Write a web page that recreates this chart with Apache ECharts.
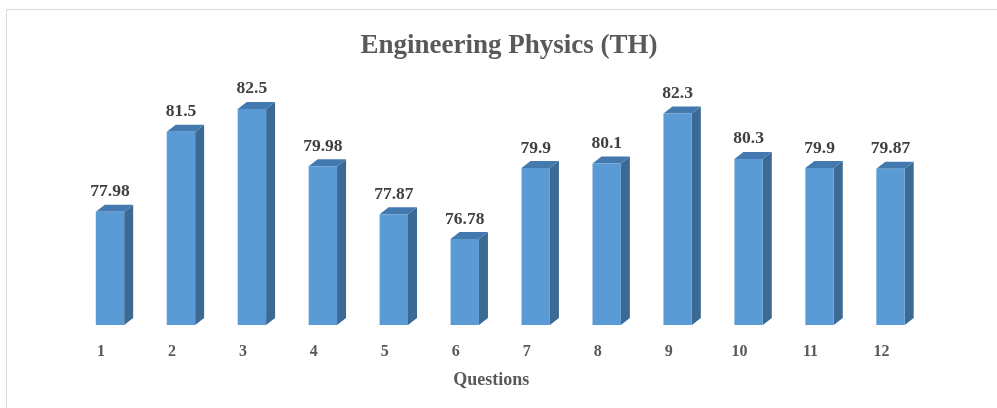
<!DOCTYPE html>
<html><head><meta charset="utf-8">
<script src="https://cdn.jsdelivr.net/npm/echarts@6/dist/echarts.min.js"></script>
<style>html,body{margin:0;padding:0;background:#fff}#c{width:997px;height:408px}</style>
</head><body><div id="c"></div>
<script>
const categories = ['1','2','3','4','5','6','7','8','9','10','11','12'];
const scores = [77.98, 81.5, 82.5, 79.98, 77.87, 76.78, 79.9, 80.1, 82.3, 80.3, 79.9, 79.87];
const labels = ['77.98','81.5','82.5','79.98','77.87','76.78','79.9','80.1','82.3','80.3','79.9','79.87'];

const chart = echarts.init(document.getElementById('c'));
const DX = 9, DY = 7;
const serif = '"Liberation Serif","Times New Roman",serif';
chart.setOption({
  animation: false,
  title: {
    text: 'Engineering Physics (TH)', left: 504, top: 28, textAlign: 'center',
    textStyle: { fontFamily: serif, fontSize: 27, fontWeight: 'bold', color: '#595959' }
  },
  graphic: [{
    type: 'rect', shape: { x: 6.5, y: 9.5, width: 1000, height: 500 },
    style: { fill: 'none', stroke: '#d9d9d9', lineWidth: 1 }, z: -1
  }],
  grid: { left: 74.5, right: 71, top: 52, bottom: 83 },
  xAxis: {
    type: 'category', data: categories,
    name: 'Questions', nameLocation: 'middle', nameGap: 46,
    nameTextStyle: { fontFamily: serif, fontSize: 18, fontWeight: 'bold', color: '#595959', padding: [0, 18, 0, 0] },
    axisLine: { show: false }, axisTick: { show: false },
    axisLabel: { fontFamily: serif, fontSize: 16, fontWeight: 'bold', color: '#595959', margin: 19, padding: [0, 18, 0, 0] }
  },
  yAxis: { type: 'value', min: 73, max: 85, show: false, splitLine: { show: false } },
  series: [{
    type: 'custom',
    data: scores.map((v, i) => [i, v, labels[i]]),
    renderItem: function (params, api) {
      const i = api.value(0), v = api.value(1);
      const top = api.coord([i, v]);
      const bot = api.coord([i, 73]);
      const band = api.size([1, 0])[0];
      const w = band * 0.4;
      const x0 = top[0] - w / 2, x1 = top[0] + w / 2;
      const yT = top[1], yB = bot[1];
      return {
        type: 'group',
        children: [
          { type: 'polygon', shape: { points: [[x1, yT], [x1 + DX, yT - DY], [x1 + DX, yB - DY], [x1, yB]] },
            style: { fill: '#3b6a94' } },
          { type: 'polygon', shape: { points: [[x0, yT], [x0 + DX, yT - DY], [x1 + DX, yT - DY], [x1, yT]] },
            style: { fill: '#4479b0' } },
          { type: 'rect', shape: { x: x0, y: yT, width: w, height: yB - yT },
            style: { fill: '#5b9bd5' } },
          { type: 'text', x: top[0], y: yT - DY - 4,
            style: { text: labels[i], align: 'center', verticalAlign: 'bottom',
              font: 'bold 17.5px ' + serif, fill: '#404040' } }
        ]
      };
    }
  }]
});
</script></body></html>
